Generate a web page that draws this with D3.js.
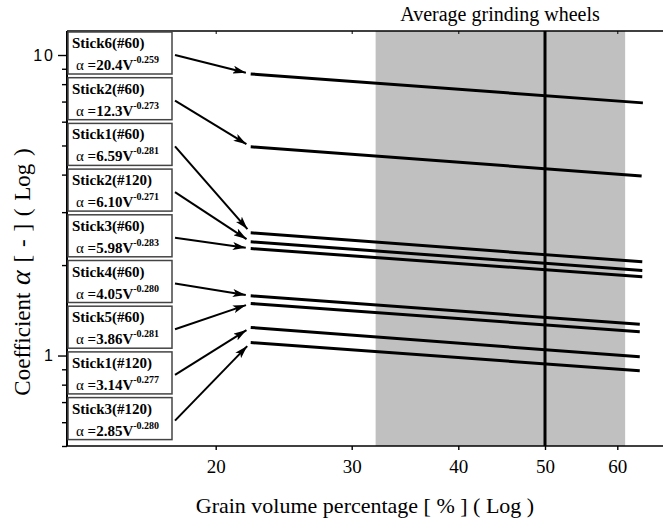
<!DOCTYPE html>
<html>
<head>
<meta charset="utf-8">
<script src="https://cdn.jsdelivr.net/npm/d3@7/dist/d3.min.js"></script>
<style>
  body { margin: 0; background: #fff; }
  svg { display: block; }
</style>
</head>
<body>
<div id="chart"></div>
<script>
// stick labels, fit coefficients and exponents (box text)
const sticks = ["Stick6(#60)", "Stick2(#60)", "Stick1(#60)", "Stick2(#120)", "Stick3(#60)",
                "Stick4(#60)", "Stick5(#60)", "Stick1(#120)", "Stick3(#120)"];
const coefs = ["20.4", "12.3", "6.59", "6.10", "5.98", "4.05", "3.86", "3.14", "2.85"];
const exps = ["-0.259", "-0.273", "-0.281", "-0.271", "-0.283", "-0.280", "-0.281", "-0.277", "-0.280"];

// line end points (grain volume %, alpha)
const vStart = 22.2;
const vEnd = [64.0, 63.8, 63.9, 63.9, 63.9, 63.5, 63.5, 63.5, 63.5];
const alphaStart = [8.65, 4.95, 2.56, 2.39, 2.27, 1.58, 1.49, 1.24, 1.105];
const alphaEnd = [6.93, 3.96, 2.05, 1.92, 1.83, 1.27, 1.20, 0.99, 0.89];

// shaded band and marker line
const band = [32.0, 61.2];
const markV = 50;

// ticks
const xTicks = [20, 30, 40, 50, 60];
const yMajor = [1, 10];
const yMinor = [0.5, 0.6, 0.7, 0.8, 0.9, 2, 3, 4, 5, 6, 7, 8, 9];

const W = 663, H = 522;
const mLeft = 67, mTop = 31, mBottom = 446, mRight = 663;
const SERIF = "'Liberation Serif', 'Times New Roman', Times, serif";
const SANS = "'Liberation Sans', Arial, Helvetica, sans-serif";

const svg = d3.select("#chart").append("svg")
  .attr("width", W).attr("height", H)
  .attr("font-family", SERIF);

// x axis of the original is not a clean log, so fit it piecewise at the ticks
const x = d3.scaleLog().domain(xTicks).range([215.7, 351.7, 458.3, 545, 617.3]);
const y = d3.scaleLog().domain([0.5, 12.02]).range([mBottom, mTop]);

// shaded region
svg.append("rect")
  .attr("x", x(band[0])).attr("y", mTop)
  .attr("width", x(band[1]) - x(band[0]))
  .attr("height", mBottom - mTop)
  .attr("fill", "#c0c0c0");

// vertical marker at 50 %
svg.append("line")
  .attr("x1", x(markV)).attr("x2", x(markV))
  .attr("y1", mTop).attr("y2", mBottom)
  .attr("stroke", "#000").attr("stroke-width", 3);

// frame lines
svg.append("line").attr("x1", mLeft).attr("x2", mRight).attr("y1", mBottom).attr("y2", mBottom)
  .attr("stroke", "#000").attr("stroke-width", 1.6);
svg.append("line").attr("x1", mLeft).attr("x2", mRight).attr("y1", mTop).attr("y2", mTop)
  .attr("stroke", "#000").attr("stroke-width", 1.4);
svg.append("line").attr("x1", mLeft).attr("x2", mLeft).attr("y1", mTop).attr("y2", mBottom)
  .attr("stroke", "#000").attr("stroke-width", 2);

// x axis
const xAxis = svg.append("g")
  .attr("transform", `translate(0,${mBottom})`)
  .call(d3.axisBottom(x).tickValues(xTicks).tickFormat(d3.format("d")).tickSize(4).tickSizeOuter(0));
xAxis.select(".domain").remove();
xAxis.selectAll("line").attr("stroke-width", 1.4);
xAxis.selectAll("text")
  .attr("font-family", SERIF)
  .attr("font-size", 19).attr("fill", "#000")
  .attr("y", 0).attr("dy", 27);

const xTop = svg.append("g")
  .attr("transform", `translate(0,${mTop})`)
  .call(d3.axisTop(x).tickValues(xTicks).tickFormat("").tickSize(-3).tickSizeOuter(0));
xTop.select(".domain").remove();

// y axis, major + minor
const yAxis = svg.append("g")
  .attr("transform", `translate(${mLeft},0)`)
  .call(d3.axisLeft(y).tickValues(yMajor).tickFormat(d3.format("d")).tickSize(9).tickSizeOuter(0));
yAxis.select(".domain").remove();
yAxis.selectAll("line").attr("stroke-width", 1.4);
yAxis.selectAll("text")
  .attr("font-family", SANS)
  .attr("font-size", 16).attr("fill", "#000")
  .attr("letter-spacing", 2).attr("x", -12);

const yMin = svg.append("g")
  .attr("transform", `translate(${mLeft},0)`)
  .call(d3.axisLeft(y).tickValues(yMinor).tickFormat("").tickSize(5).tickSizeOuter(0));
yMin.select(".domain").remove();
yMin.selectAll("line").attr("stroke-width", 1.4);

// fit lines
const series = sticks.map((s, i) => ({
  name: s, coef: coefs[i], exp: exps[i],
  pts: [[vStart, alphaStart[i]], [vEnd[i], alphaEnd[i]]]
}));

const line = d3.line().x(d => x(d[0])).y(d => y(d[1]));
svg.append("g").selectAll("path")
  .data(series).join("path")
  .attr("d", d => line(d.pts))
  .attr("fill", "none").attr("stroke", "#000").attr("stroke-width", 3);

// label boxes
const boxX = 68, boxW = 104, boxH = 42, boxTop = 32, boxStep = 45.7;
const boxes = svg.append("g").selectAll("g")
  .data(series).join("g")
  .attr("transform", (d, i) => `translate(${boxX},${boxTop + i * boxStep})`);

boxes.append("rect")
  .attr("width", boxW).attr("height", boxH)
  .attr("fill", "#fff").attr("stroke", "#444").attr("stroke-width", 1.5);

boxes.append("text")
  .attr("font-family", SERIF)
  .attr("x", 4).attr("y", 16)
  .attr("font-size", 15).attr("font-weight", "bold")
  .text(d => d.name);

const eq = boxes.append("text")
  .attr("font-family", SERIF)
  .attr("x", 8).attr("y", 38)
  .attr("font-size", 15);
eq.append("tspan").text("\u03b1");
eq.append("tspan").attr("font-weight", "bold").text(d => " =" + d.coef + "V");
eq.append("tspan").attr("font-weight", "bold").attr("font-size", 10).attr("dy", -7).text(d => d.exp);

// arrows from boxes to line starts
svg.append("defs").append("marker")
  .attr("id", "head")
  .attr("viewBox", "0 0 13 8")
  .attr("refX", 13).attr("refY", 4)
  .attr("markerWidth", 13).attr("markerHeight", 8)
  .attr("markerUnits", "userSpaceOnUse")
  .attr("orient", "auto")
  .append("path").attr("d", "M0,0 L13,4 L0,8 L3,4 Z").attr("fill", "#000");

svg.append("g").selectAll("line")
  .data(series).join("line")
  .each(function(d, i) {
    const x0 = boxX + boxW + 3, y0 = boxTop + i * boxStep + boxH / 2 + 2;
    const x1 = x(d.pts[0][0]), y1 = y(d.pts[0][1]);
    const len = Math.hypot(x1 - x0, y1 - y0), k = (len - 5) / len;
    d3.select(this)
      .attr("x1", x0).attr("y1", y0)
      .attr("x2", x0 + (x1 - x0) * k).attr("y2", y0 + (y1 - y0) * k);
  })
  .attr("stroke", "#000").attr("stroke-width", 2)
  .attr("marker-end", "url(#head)");

// titles
svg.append("text")
  .attr("font-family", SERIF)
  .attr("x", 500).attr("y", 21)
  .attr("text-anchor", "middle").attr("font-size", 20)
  .text("Average grinding wheels");

svg.append("text")
  .attr("font-family", SERIF)
  .attr("x", 365).attr("y", 513)
  .attr("text-anchor", "middle").attr("font-size", 22)
  .text("Grain volume percentage [ % ] ( Log )");

const yt = svg.append("text")
  .attr("font-family", SERIF)
  .attr("transform", "translate(30,272) rotate(-90)")
  .attr("text-anchor", "middle").attr("font-size", 23)
  .attr("word-spacing", 2);
yt.append("tspan").text("Coefficient ");
yt.append("tspan").attr("font-style", "italic").attr("font-size", 28).text("\u03b1");
yt.append("tspan").text(" [ - ] ( Log )");
</script>
</body>
</html>
